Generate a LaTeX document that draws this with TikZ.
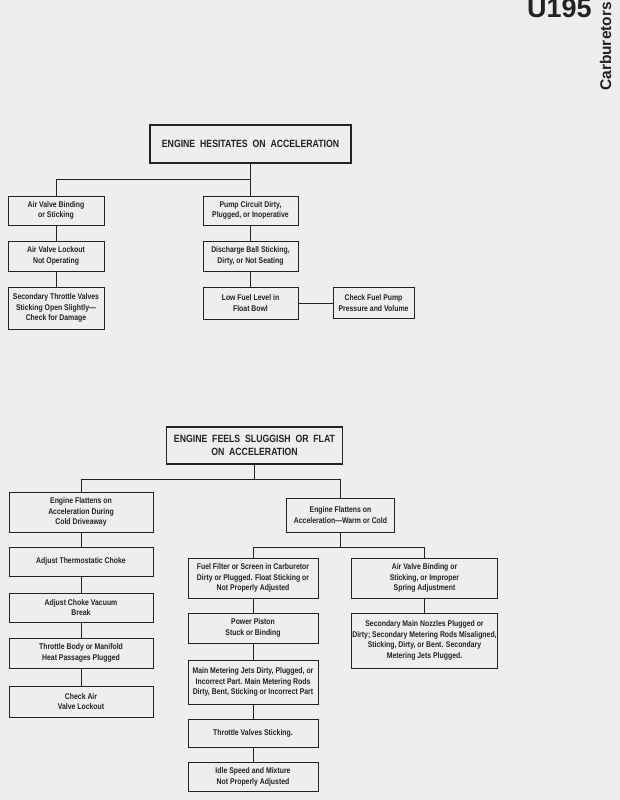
\documentclass[tikz,border=0pt]{standalone}
\usepackage{fontspec}
\setmainfont{Liberation Sans}
\newfontfamily\condfont[FakeStretch=0.83]{Liberation Sans}
\definecolor{paper}{RGB}{238,238,236}
\definecolor{ink}{RGB}{34,34,34}

\begin{document}
\begin{tikzpicture}[
    x=1pt, y=-1pt,
    every node/.style={text=ink},
    title/.style={draw=ink, line width=1.1pt, inner sep=0pt, align=center,
        font=\condfont\bfseries\fontsize{10.5}{13}\selectfont},
    box/.style={draw=ink, line width=0.9pt, inner sep=0pt, align=center,
        font=\condfont\bfseries\fontsize{8.3}{10.7}\selectfont},
    link/.style={draw=ink, line width=0.9pt}
]
\fill[paper] (0,0) rectangle (620,800);
\useasboundingbox (0,0) rectangle (620,800);

% Page header
\node[anchor=base west, inner sep=0pt, font=\bfseries\fontsize{27}{27}\selectfont] (page) at (527,17.5) {U195};
\node[anchor=base west, inner sep=0pt, rotate=90, font=\bfseries\fontsize{15.5}{16}\selectfont] (section) at (611,91) {Carburetors};

% Tree 1
\node[title, minimum width=201, minimum height=38] (top1) at (250.5,144) {ENGINE\ \ HESITATES\ \ ON\ \ ACCELERATION};
\coordinate (j1) at (250.5,179);
% left branch
\node[box, minimum width=96, minimum height=29] (a1) at (56,210.5) {Air Valve Binding\\or Sticking};
\node[box, minimum width=96, minimum height=30] (a2) at (56,256) {Air Valve Lockout\\Not Operating};
\node[box, minimum width=96, minimum height=42] (a3) at (56,308) {Secondary Throttle Valves\\Sticking Open Slightly—\\Check for Damage};
% right branch
\node[box, minimum width=95, minimum height=29] (b1) at (250.5,210.5) {Pump Circuit Dirty,\\Plugged, or Inoperative};
\node[box, minimum width=95, minimum height=30] (b2) at (250.5,256) {Discharge Ball Sticking,\\Dirty, or Not Seating};
\node[box, minimum width=95, minimum height=32] (b3) at (250.5,303) {Low Fuel Level in\\Float Bowl};
\node[box, minimum width=81, minimum height=31] (chk) at (373.5,303) {Check Fuel Pump\\Pressure and Volume};

\draw[link] (top1.south) -- (j1) -| (a1.north);
\draw[link] (j1) -- (b1.north);
\draw[link] (a1) -- (a2);
\draw[link] (a2) -- (a3);
\draw[link] (b1) -- (b2);
\draw[link] (b2) -- (b3);
\draw[link] (b3) -- (chk);

% Tree 2
\node[title, minimum width=176, minimum height=37] (top2) at (254.5,445.5) {ENGINE\ \ FEELS\ \ SLUGGISH\ \ OR\ \ FLAT\\ON\ \ ACCELERATION};
\coordinate (j2) at (254.5,479);
% cold driveaway branch
\node[box, minimum width=144, minimum height=40] (c1) at (81,512) {Engine Flattens on\\Acceleration During\\Cold Driveaway};
\node[box, minimum width=144, minimum height=29] (c2) at (81,561.5) {Adjust Thermostatic Choke};
\node[box, minimum width=144, minimum height=29] (c3) at (81,607.5) {Adjust Choke Vacuum\\Break};
\node[box, minimum width=144, minimum height=30] (c4) at (81,653) {Throttle Body or Manifold\\Heat Passages Plugged};
\node[box, minimum width=144, minimum height=31] (c5) at (81,701.5) {Check Air\\Valve Lockout};
% warm or cold branch
\node[box, minimum width=108, minimum height=34] (d1) at (340.5,515) {Engine Flattens on\\Acceleration—Warm or Cold};
\coordinate (j3) at (340.5,547);
\node[box, minimum width=130, minimum height=40] (e1) at (253,578) {Fuel Filter or Screen in Carburetor\\Dirty or Plugged. Float Sticking or\\Not Properly Adjusted};
\node[box, minimum width=130, minimum height=30] (e2) at (253,628) {Power Piston\\Stuck or Binding};
\node[box, minimum width=130, minimum height=44] (e3) at (253,682) {Main Metering Jets Dirty, Plugged, or\\Incorrect Part. Main Metering Rods\\Dirty, Bent, Sticking or Incorrect Part};
\node[box, minimum width=130, minimum height=28] (e4) at (253,733) {Throttle Valves Sticking.};
\node[box, minimum width=130, minimum height=29] (e5) at (253,776.5) {Idle Speed and Mixture\\Not Properly Adjusted};
\node[box, minimum width=146, minimum height=40] (f1) at (424.5,578) {Air Valve Binding or\\Sticking, or Improper\\Spring Adjustment};
\node[box, minimum width=146, minimum height=55] (f2) at (424.5,640.5) {Secondary Main Nozzles Plugged or\\Dirty; Secondary Metering Rods Misaligned,\\Sticking, Dirty, or Bent. Secondary\\Metering Jets Plugged.};

\draw[link] (top2.south) -- (j2) -| (c1.north);
\draw[link] (j2) -| (d1.north);
\draw[link] (c1) -- (c2);
\draw[link] (c2) -- (c3);
\draw[link] (c3) -- (c4);
\draw[link] (c4) -- (c5);
\draw[link] (d1.south) -- (j3) -| (e1.north);
\draw[link] (j3) -| (f1.north);
\draw[link] (e1) -- (e2);
\draw[link] (e2) -- (e3);
\draw[link] (e3) -- (e4);
\draw[link] (e4) -- (e5);
\draw[link] (f1) -- (f2);
\end{tikzpicture}
\end{document}
